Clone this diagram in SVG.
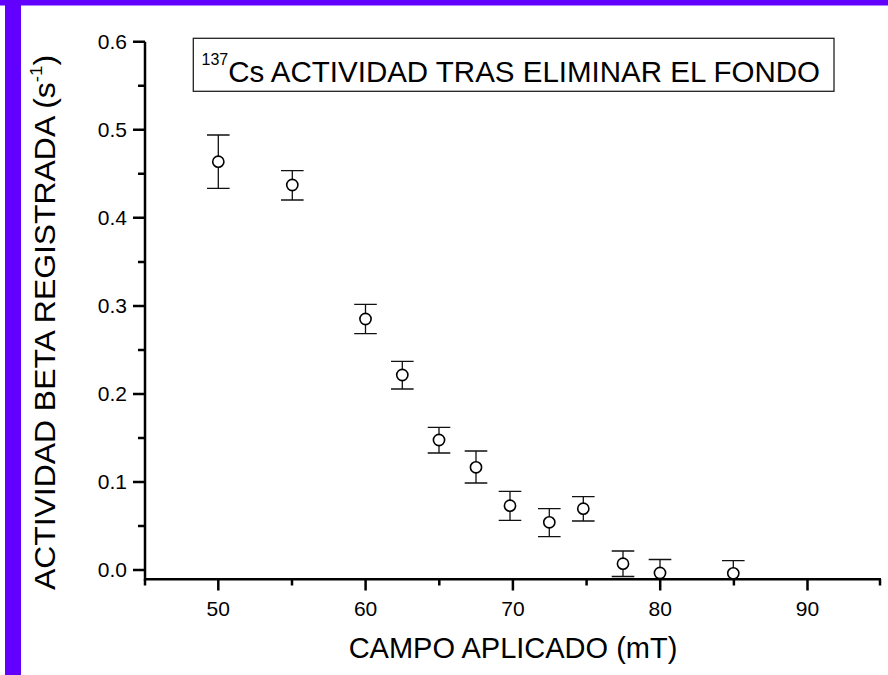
<svg xmlns="http://www.w3.org/2000/svg" width="888" height="675" viewBox="0 0 888 675">
<defs>
<style>
.ax{stroke:#000;stroke-width:2.5;fill:none;stroke-linecap:butt}
.eb{stroke:#111;stroke-width:1.3;fill:none}
.pt{fill:#fff;stroke:#000;stroke-width:1.6}
.tl{font-family:"Liberation Sans",Arial,sans-serif;font-size:21px;fill:#000}
.tt{font-family:"Liberation Sans",Arial,sans-serif;font-size:29px;fill:#000}
</style>
<clipPath id="plotclip"><rect x="146" y="30" width="740" height="548"/></clipPath>
</defs>
<rect x="0" y="0" width="888" height="675" fill="#fff"/>
<g id="frame">
<rect x="0" y="0" width="888" height="5.5" fill="#6200FF"/>
<rect x="5" y="0" width="16" height="675" fill="#6200FF"/>
</g>
<g id="axes">
<path class="ax" d="M145,41.7 V580.5 M143.8,579.3 H881"/>
<path class="ax" d="M133,41.7 H145 M133,129.8 H145 M133,217.8 H145 M133,305.9 H145 M133,393.9 H145 M133,482 H145 M133,570 H145"/>
<path class="ax" d="M138,85.7 H145 M138,173.8 H145 M138,261.9 H145 M138,349.9 H145 M138,438 H145 M138,526 H145"/>
<path class="ax" d="M218.3,579 V590.5 M365.6,579 V590.5 M512.9,579 V590.5 M660.2,579 V590.5 M807.5,579 V590.5"/>
<path class="ax" d="M145,579 V585.5 M292,579 V585.5 M439.3,579 V585.5 M586.6,579 V585.5 M733.9,579 V585.5 M880,579 V585.5"/>
</g>
<g id="ytick-labels" class="tl" text-anchor="end">
<text x="127" y="49">0.6</text>
<text x="127" y="137.1">0.5</text>
<text x="127" y="225.1">0.4</text>
<text x="127" y="313.2">0.3</text>
<text x="127" y="401.2">0.2</text>
<text x="127" y="489.3">0.1</text>
<text x="127" y="577.3">0.0</text>
</g>
<g id="xtick-labels" class="tl" text-anchor="middle">
<text x="218.3" y="616">50</text>
<text x="365.6" y="616">60</text>
<text x="512.9" y="616">70</text>
<text x="660.2" y="616">80</text>
<text x="807.5" y="616">90</text>
</g>
<g id="x-title"><text class="tt" x="513" y="657.7" text-anchor="middle">CAMPO APLICADO (mT)</text></g>
<g id="y-title"><text class="tt" transform="translate(55,322.5) rotate(-90) scale(1.1,1)" text-anchor="middle">ACTIVIDAD BETA REGISTRADA (s<tspan font-size="17" dy="-13">-1</tspan><tspan dy="13">)</tspan></text></g>
<g id="legend">
<rect x="193.3" y="38.3" width="640.7" height="53" fill="#fff" stroke="#222" stroke-width="1.3"/>
<text class="tt" x="201.5" y="81.7"><tspan font-size="16" dy="-17">137</tspan><tspan dy="17" font-size="29.5">Cs ACTIVIDAD TRAS ELIMINAR EL FONDO</tspan></text>
</g>
<g id="data" clip-path="url(#plotclip)">
<g id="p50"><path class="eb" d="M218.3,135 V188.3 M207,135 H229.6 M207,188.3 H229.6"/><circle class="pt" cx="218.3" cy="161.7" r="5.6"/></g>
<g id="p55"><path class="eb" d="M292.3,170.7 V200 M281,170.7 H303.6 M281,200 H303.6"/><circle class="pt" cx="292.3" cy="185" r="5.6"/></g>
<g id="p60"><path class="eb" d="M365.5,304.3 V333.7 M354.2,304.3 H376.8 M354.2,333.7 H376.8"/><circle class="pt" cx="365.5" cy="319" r="5.6"/></g>
<g id="p62"><path class="eb" d="M402.3,361.3 V389 M391,361.3 H413.6 M391,389 H413.6"/><circle class="pt" cx="402.3" cy="375" r="5.6"/></g>
<g id="p65"><path class="eb" d="M439,427.3 V453 M427.7,427.3 H450.3 M427.7,453 H450.3"/><circle class="pt" cx="439" cy="440" r="5.6"/></g>
<g id="p67"><path class="eb" d="M476,451 V483 M464.7,451 H487.3 M464.7,483 H487.3"/><circle class="pt" cx="476" cy="467.3" r="5.6"/></g>
<g id="p70"><path class="eb" d="M510,491.3 V520.3 M498.7,491.3 H521.3 M498.7,520.3 H521.3"/><circle class="pt" cx="510" cy="505.7" r="5.6"/></g>
<g id="p72"><path class="eb" d="M549.3,508.7 V536.7 M538,508.7 H560.6 M538,536.7 H560.6"/><circle class="pt" cx="549.3" cy="522.3" r="5.6"/></g>
<g id="p75"><path class="eb" d="M583.3,496.7 V521 M572,496.7 H594.6 M572,521 H594.6"/><circle class="pt" cx="583.3" cy="508.7" r="5.6"/></g>
<g id="p77"><path class="eb" d="M623,551 V576.5 M611.7,551 H634.3 M611.7,576.5 H634.3"/><circle class="pt" cx="623" cy="563.7" r="5.6"/></g>
<g id="p80"><path class="eb" d="M660,559.5 V587 M648.7,559.5 H671.3 M648.7,587 H671.3"/><circle class="pt" cx="660" cy="573" r="5.6"/></g>
<g id="p85"><path class="eb" d="M733.3,560.7 V587 M722,560.7 H744.6 M722,587 H744.6"/><circle class="pt" cx="733.3" cy="573.3" r="5.6"/></g>
</g>
</svg>
